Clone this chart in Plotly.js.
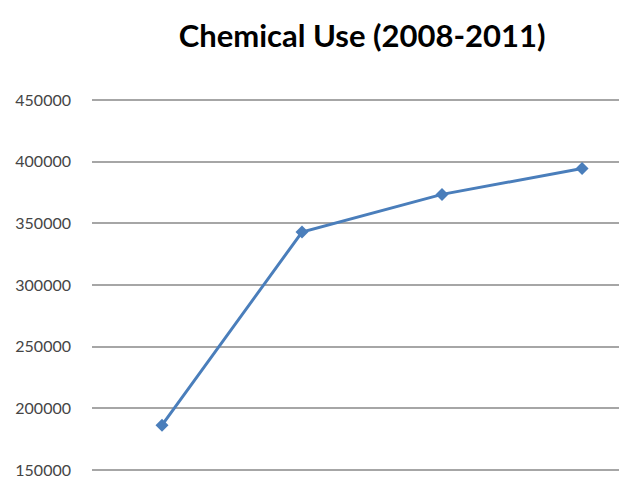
<!DOCTYPE html>
<html><head><meta charset="utf-8">
<script src="https://cdn.plot.ly/plotly-3.0.1.min.js"></script>
<style>html,body{margin:0;padding:0;background:#fff}#chart{width:619px;height:479px}</style>
</head><body><div id="chart"></div>
<script>
var years = ["2008", "2009", "2010", "2011"];
var chemicalUse = [186500, 343000, 373500, 394500];
var yTicks = [150000, 200000, 250000, 300000, 350000, 400000, 450000];

var trace = {
  x: [0, 1, 2, 3],
  y: chemicalUse,
  text: years,
  type: 'scatter',
  mode: 'lines+markers',
  line: {color: '#4A7EBB', width: 3},
  marker: {symbol: 'diamond', size: 10, color: '#4A7EBB'},
  hoverinfo: 'text+y'
};

var layout = {
  width: 619, height: 479,
  margin: {l: 92, r: 0, t: 98, b: 0},
  paper_bgcolor: '#ffffff', plot_bgcolor: '#ffffff',
  showlegend: false,
  title: {
    text: '<b>Chemical Use (2008-2011)</b>',
    font: {family: 'Lato, Open Sans, sans-serif', size: 31, color: '#000000'},
    xref: 'container', x: 0.585, xanchor: 'center',
    yref: 'container', y: 1 - 36/479, yanchor: 'middle'
  },
  xaxis: {
    range: [-0.5, 3.264],
    showgrid: false, zeroline: false, showline: false,
    showticklabels: false, ticks: '',
    tickvals: [0, 1, 2, 3], ticktext: years
  },
  yaxis: {
    range: [142850, 451600],
    tickvals: yTicks,
    ticktext: yTicks.map(String),
    showgrid: true, gridcolor: '#a6a6a6', gridwidth: 2,
    zeroline: false, showline: false, ticks: '',
    ticklabelstandoff: 20,
    tickfont: {family: 'Lato, Open Sans, sans-serif', size: 16, color: '#454545'}
  }
};

Plotly.newPlot('chart', [trace], layout, {displayModeBar: false, staticPlot: true});
</script></body></html>
